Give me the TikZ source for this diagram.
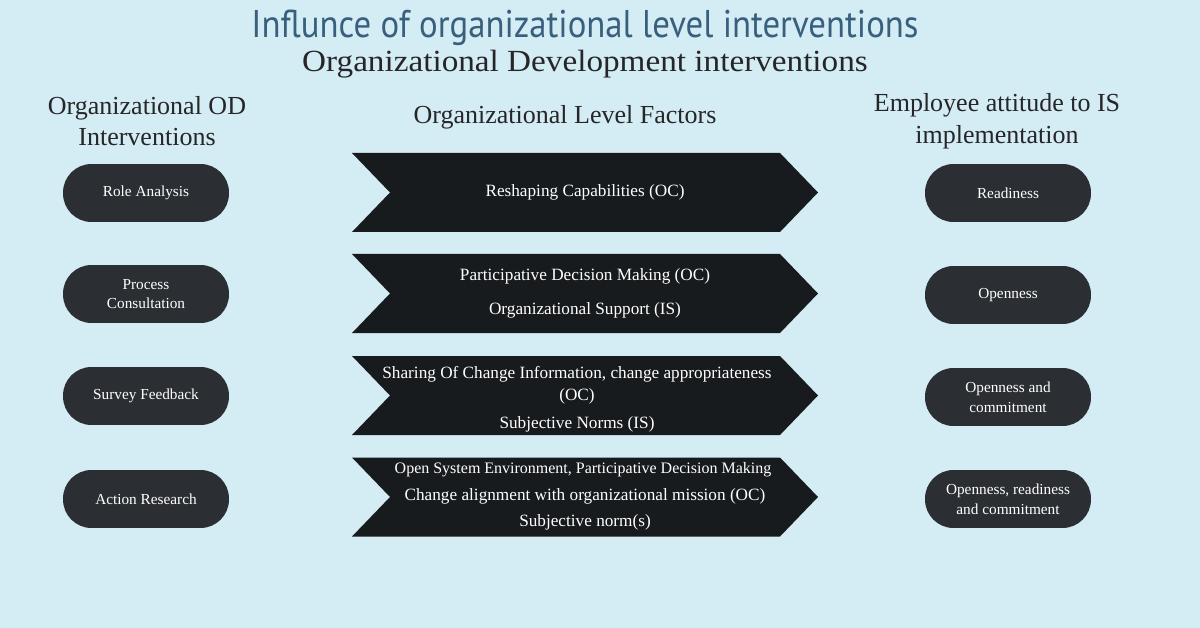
\documentclass[tikz,border=0pt]{standalone}
\usepackage{fontspec}
\setmainfont{Liberation Serif}
\newfontfamily\titlefont{PT Sans}[FakeStretch=0.9]
\newfontfamily\subfont{Liberation Serif}[FakeStretch=1.08]
\usetikzlibrary{positioning}

\definecolor{bgblue}{RGB}{212,236,244}
\definecolor{titleblue}{RGB}{56,96,126}
\definecolor{pillgray}{RGB}{43,46,51}
\definecolor{arrowblack}{RGB}{24,27,30}
\definecolor{headgray}{RGB}{38,38,40}

\begin{document}
\begin{tikzpicture}[x=0.02cm, y=-0.02cm,
    pill/.style={fill=pillgray, rounded corners=0.57cm, minimum width=3.32cm, minimum height=1.16cm,
      text=white, align=center, font=\fontsize{8.7}{11.3}\selectfont},
    head/.style={text=headgray, align=center, font=\fontsize{14.8}{18}\selectfont},
    factor/.style={text=white, font=\fontsize{9.8}{12}\selectfont}]
    \fill[bgblue] (0,0) rectangle (1200,628);
    \useasboundingbox (0,0) rectangle (1200,628);

    % titles
    \node[text=titleblue, font=\titlefont\fontsize{22}{26}\selectfont] (title) at (585,28) {Influnce of organizational level interventions};
    \node[text=headgray, font=\subfont\fontsize{17.5}{20}\selectfont] (subtitle) at (585,64) {Organizational Development interventions};

    % column heads
    \node[head] (odhead) at (147,121) {Organizational OD\\Interventions};
    \node[head] (lfhead) at (565,117) {Organizational Level Factors};
    \node[head] (eahead) at (997,121) {Employee attitude to IS\\implementation};

    % chevrons
    \foreach \y in {192.5,293.5,395.5,497}
        \fill[arrowblack] (352,\y-39.5) -- (780,\y-39.5) -- (818,\y) -- (780,\y+39.5) -- (352,\y+39.5) -- (390,\y) -- cycle;

    % interventions
    \node[pill] (role) at (146,193) {Role Analysis};
    \node[pill] (process) at (146,294) {Process\\Consultation};
    \node[pill] (survey) at (146,396) {Survey Feedback};
    \node[pill] (action) at (146,499) {Action Research};

    % factors
    \node[factor] (f1) at (585,192) {Reshaping Capabilities (OC)};
    \node[factor] (f2a) at (585,276) {Participative Decision Making (OC)};
    \node[factor] (f2b) at (585,310) {Organizational Support (IS)};
    \node[factor] (f3a) at (577,374) {Sharing Of Change Information, change appropriateness};
    \node[factor] (f3b) at (577,396) {(OC)};
    \node[factor] (f3c) at (577,424) {Subjective Norms (IS)};
    \node[factor, font=\fontsize{9.1}{12}\selectfont] (f4a) at (583,470) {Open System Environment, Participative Decision Making};
    \node[factor] (f4b) at (585,496) {Change alignment with organizational mission (OC)};
    \node[factor] (f4c) at (585,522) {Subjective norm(s)};

    % attitudes
    \node[pill] (ready) at (1008,193) {Readiness};
    \node[pill] (open) at (1008,295) {Openness};
    \node[pill] (commit) at (1008,397) {Openness and\\commitment};
    \node[pill] (all) at (1008,499) {Openness, readiness\\and commitment};
\end{tikzpicture}
\end{document}
